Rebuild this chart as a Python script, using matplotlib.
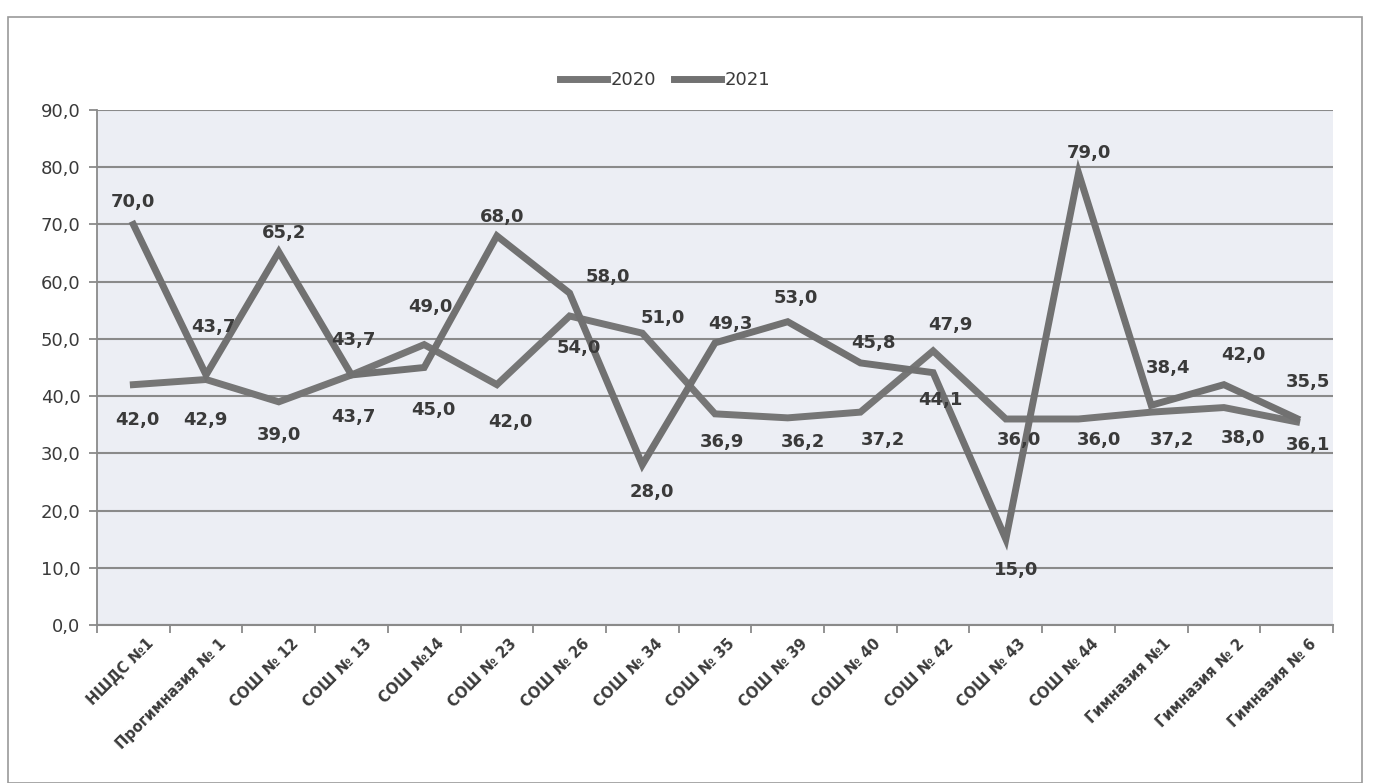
import matplotlib.pyplot as plt
from matplotlib.patches import Rectangle
from matplotlib.ticker import FixedLocator, FuncFormatter

categories = ['НШДС №1', 'Прогимназия № 1', 'СОШ № 12', 'СОШ № 13', 'СОШ №14',
              'СОШ № 23', 'СОШ № 26', 'СОШ № 34', 'СОШ № 35', 'СОШ № 39',
              'СОШ № 40', 'СОШ № 42', 'СОШ № 43', 'СОШ № 44', 'Гимназия №1',
              'Гимназия № 2', 'Гимназия № 6']
values_2020 = [42.0, 42.9, 39.0, 43.7, 49.0, 42.0, 54.0, 51.0, 36.9, 36.2,
               37.2, 47.9, 36.0, 36.0, 37.2, 38.0, 35.5]
values_2021 = [70.0, 43.7, 65.2, 43.7, 45.0, 68.0, 58.0, 28.0, 49.3, 53.0,
               45.8, 44.1, 15.0, 79.0, 38.4, 42.0, 36.1]

# data label offsets in pixels (dx, dy), dy > 0 means below the point
offs_2020 = [(4, 35), (-1, 40), (0, 33), (2, 42), (6, -38), (13, 37), (9, 32),
             (21, -15), (7, 28), (15, 24), (23, 28), (17, -26), (13, 21),
             (20, 21), (21, 28), (19, 30), (11, -40)]
offs_2021 = [(0, -22), (7, -48), (5, -19), (2, -35), (9, 42), (5, -19), (38, -16),
             (10, 27), (15, -19), (8, -24), (13, -20), (7, 27), (10, 31),
             (10, -20), (17, -37), (19, -30), (11, 27)]

fig = plt.figure(figsize=(13.75, 7.83), dpi=100)
fig.patch.set_facecolor('white')
fig.patches.append(Rectangle((8 / 1375, 0.0), 1354 / 1375, 1 - 17 / 783,
                             transform=fig.transFigure, fill=False,
                             edgecolor='#9a9a9a', linewidth=1.2))

ax = fig.add_axes([97 / 1375, 1 - 625 / 783, 1236 / 1375, 515 / 783])
ax.set_facecolor('#eceef4')
x = list(range(len(categories)))

ax.plot(x, values_2020, color='#767676', linewidth=5, label='2020',
        solid_joinstyle='miter', zorder=3)
ax.plot(x, values_2021, color='#717171', linewidth=5, label='2021',
        solid_joinstyle='miter', zorder=3)

for vals, offs in ((values_2020, offs_2020), (values_2021, offs_2021)):
    for i, (v, (dx, dy)) in enumerate(zip(vals, offs)):
        ax.annotate(f'{v:.1f}'.replace('.', ','), (i, v),
                    xytext=(dx, -dy), textcoords='offset pixels',
                    ha='center', va='center', fontsize=13, fontweight='bold',
                    color='#3a3a3a', zorder=4)

ax.set_xlim(-0.5, len(categories) - 0.5)
ax.set_ylim(0, 90)
ax.set_yticks(range(0, 91, 10))
ax.yaxis.set_major_formatter(FuncFormatter(lambda v, p: f'{v:.1f}'.replace('.', ',')))
ax.grid(axis='y', color='#8a8a8a', linewidth=1.5, zorder=1)
ax.set_axisbelow(True)

# labels sit a little right of the category centre, as in Excel
ax.set_xticks([i + 0.17 for i in x])
ax.set_xticklabels(categories, rotation=45, ha='right', rotation_mode='anchor',
                   fontsize=10.5, fontweight='bold', color='#3a3a3a')
ax.xaxis.set_minor_locator(FixedLocator([i - 0.5 for i in range(len(categories) + 1)]))
ax.tick_params(axis='x', which='major', length=0, pad=8)
ax.tick_params(axis='x', which='minor', length=6, color='#8a8a8a', width=1.3)
ax.tick_params(axis='y', length=6, color='#8a8a8a', width=1.3, labelsize=13,
               labelcolor='#3a3a3a', pad=6)

for side in ('top', 'right'):
    ax.spines[side].set_visible(False)
ax.spines['left'].set_color('#8a8a8a')
ax.spines['bottom'].set_color('#8a8a8a')
ax.spines['left'].set_linewidth(1.3)
ax.spines['bottom'].set_linewidth(1.5)

fig.legend(loc='center', bbox_to_anchor=(665 / 1375, 1 - 80 / 783), ncol=2,
           frameon=False, fontsize=13, handlelength=2.6, handletextpad=0.2,
           columnspacing=1.0, labelcolor='#3a3a3a')

fig.savefig('out.png', dpi=100)
